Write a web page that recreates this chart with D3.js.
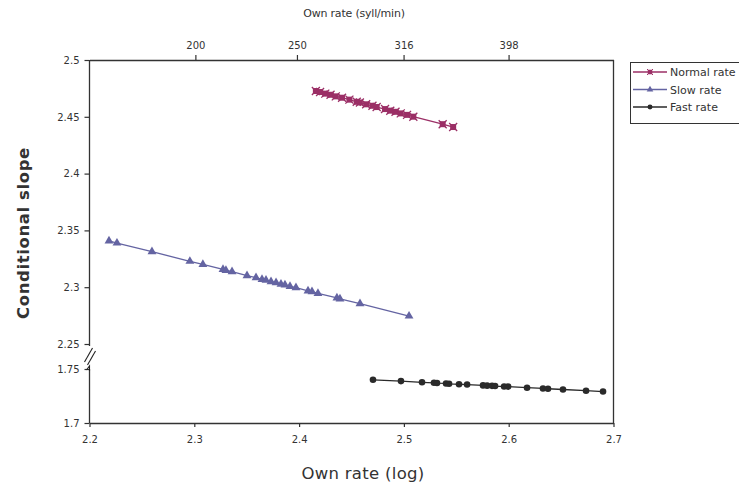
<!DOCTYPE html>
<html><head><meta charset="utf-8">
<script src="https://cdn.jsdelivr.net/npm/d3@7"></script>
<style>
body{margin:0;background:#fff;}
svg{display:block;}
text{font-family:"DejaVu Sans",Verdana,sans-serif;fill:#333;}
</style></head>
<body>
<svg id="c" width="739" height="488"></svg>
<script>
// ---- data ----
const xTicks = [2.2, 2.3, 2.4, 2.5, 2.6, 2.7];
const yTicksUpper = [2.25, 2.3, 2.35, 2.4, 2.45, 2.5];
const yTicksLower = [1.7, 1.75];
const topTickLabels = [200, 250, 316, 398];
const seriesNames = ["Normal rate", "Slow rate", "Fast rate"];

const normalX = [2.416,2.420,2.425,2.430,2.435,2.441,2.448,2.455,2.458,2.464,2.470,2.474,2.482,2.487,2.492,2.497,2.503,2.509,2.537,2.547];
const normalY = [2.4727,2.4718,2.4704,2.4694,2.4680,2.4668,2.4651,2.4632,2.4626,2.4610,2.4597,2.4586,2.4568,2.4554,2.4544,2.4530,2.4517,2.4501,2.4435,2.4410];

const slowX = [2.2186,2.2262,2.2596,2.2958,2.3082,2.3274,2.3302,2.3360,2.3503,2.3589,2.3646,2.3684,2.3732,2.3780,2.3827,2.3865,2.3913,2.3970,2.4085,2.4123,2.4180,2.4361,2.4390,2.4581,2.5049];
const slowY = [2.3407,2.3389,2.3313,2.3228,2.3201,2.3157,2.3148,2.3137,2.3102,2.3084,2.3069,2.3062,2.3049,2.3040,2.3027,2.3020,2.3007,2.2996,2.2968,2.2961,2.2946,2.2906,2.2897,2.2855,2.2746];

const fastX = [2.4705,2.4972,2.5173,2.5287,2.5316,2.5402,2.5431,2.5526,2.5603,2.5755,2.5794,2.5841,2.5870,2.5956,2.5994,2.6175,2.6327,2.6375,2.6518,2.6738,2.6900];
const fastY = [1.7400,1.7388,1.7377,1.7372,1.7370,1.7366,1.7363,1.7359,1.7356,1.7348,1.7346,1.7344,1.7342,1.7338,1.7337,1.7327,1.7320,1.7317,1.7310,1.7299,1.7291];

// ---- layout ----
const svg = d3.select("#c");
const L = 89.5, R = 613.5, T = 60, B = 423;
const x = d3.scaleLinear().domain([2.2, 2.7]).range([L, R]);
const yU = d3.scaleLinear().domain([2.25, 2.5]).range([344, T]);
const yL = d3.scaleLinear().domain([1.7, 1.75]).range([B, 369]);
const axisCol = "#333";

svg.append("line").attr("x1", R).attr("x2", R).attr("y1", T).attr("y2", B)
  .attr("stroke", axisCol).attr("stroke-width", 1.3);

const gx = svg.append("g").attr("transform", `translate(0,${B})`)
  .call(d3.axisBottom(x).tickValues(xTicks).tickSize(4).tickSizeOuter(0).tickFormat(d3.format(".1f")));
const gt = svg.append("g").attr("transform", `translate(0,${T})`)
  .call(d3.axisTop(x).tickValues(topTickLabels.map(v => Math.log10(v))).tickSize(5).tickSizeOuter(0)
    .tickFormat((d, i) => topTickLabels[i]));
const gyU = svg.append("g").attr("transform", `translate(${L},0)`)
  .call(d3.axisLeft(yU).tickValues(yTicksUpper).tickSize(5).tickSizeOuter(0).tickFormat(d => String(+d.toFixed(2))));
const gyL = svg.append("g").attr("transform", `translate(${L},0)`)
  .call(d3.axisLeft(yL).tickValues(yTicksLower).tickSize(5).tickSizeOuter(0).tickFormat(d => String(+d.toFixed(2))));

[gx, gt, gyU, gyL].forEach(g => {
  g.selectAll("path.domain").attr("stroke", axisCol).attr("stroke-width", 1.3);
  g.selectAll(".tick line").attr("stroke", axisCol).attr("stroke-width", 1.2);
  g.selectAll(".tick text").style("font-family", '"DejaVu Sans",Verdana,sans-serif')
    .style("font-size", "10px").attr("fill", "#333");
});
gx.selectAll(".tick text").attr("dy", "1.3em");
gt.selectAll(".tick text").attr("dy", "-0.3em");
gyU.selectAll(".tick text").attr("dx", "-0.2em");
gyL.selectAll(".tick text").attr("dx", "-0.2em");
gyL.select("path.domain").attr("d", `M0,${yL(1.75)}V${B}`);
gyU.select("path.domain").attr("d", `M0,${T}V346`);

// break marks
const brk = svg.append("g").attr("stroke", "#222").attr("stroke-width", 1.1).attr("fill", "none");
brk.append("line").attr("x1", L - 5).attr("y1", 362).attr("x2", L + 3).attr("y2", 348);
brk.append("line").attr("x1", L - 2).attr("y1", 365).attr("x2", L + 6).attr("y2", 351);
brk.append("path").attr("d", `M${L - 3},${yL(1.75) + 1} L${L},${yL(1.75) - 3} L${L},${yL(1.75) + 2}`);

// series
const cNormal = "#9b2f66", cSlow = "#6464a2", cFast = "#2a2a2a";
const line = d3.line();
function drawSeries(xs, ys, yScale, col, marker) {
  const pts = xs.map((v, i) => [x(v), yScale(ys[i])]);
  svg.append("path").attr("d", line(pts)).attr("fill", "none").attr("stroke", col).attr("stroke-width", 1.3);
  const g = svg.append("g");
  pts.forEach(p => marker(g, p[0], p[1], col));
}
function mSquare(g, cx, cy, col) {
  g.append("rect").attr("x", cx - 3).attr("y", cy - 3).attr("width", 6).attr("height", 6).attr("fill", col);
  g.append("path").attr("d", `M${cx-4},${cy-4}L${cx+4},${cy+4}M${cx+4},${cy-4}L${cx-4},${cy+4}`)
    .attr("stroke", col).attr("stroke-width", 1.3);
}
function mTri(g, cx, cy, col) {
  g.append("path").attr("d", d3.symbol(d3.symbolTriangle, 34)()).attr("transform", `translate(${cx},${cy})`).attr("fill", col);
}
function mCirc(g, cx, cy, col) {
  g.append("circle").attr("cx", cx).attr("cy", cy).attr("r", 3.3).attr("fill", col);
}
drawSeries(normalX, normalY, yU, cNormal, mSquare);
drawSeries(slowX, slowY, yU, cSlow, mTri);
drawSeries(fastX, fastY, yL, cFast, mCirc);

// titles
svg.append("text").attr("x", 354).attr("y", 17).attr("text-anchor", "middle")
  .style("font-size", "11px").style("letter-spacing", "-0.2px").text("Own rate (syll/min)");
svg.append("text").attr("x", 363).attr("y", 479).attr("text-anchor", "middle")
  .style("font-size", "16.5px").style("letter-spacing", "0.3px").attr("fill", "#111").text("Own rate (log)");
svg.append("text").attr("transform", "translate(29,233) rotate(-90)").attr("text-anchor", "middle")
  .style("font-size", "16.5px").style("font-weight", "bold").style("letter-spacing", "0.6px")
  .attr("fill", "#111").text("Conditional slope");

// legend
const lg = svg.append("g");
lg.append("rect").attr("x", 630.5).attr("y", 62.5).attr("width", 120).attr("height", 61)
  .attr("fill", "#fff").attr("stroke", "#333").attr("stroke-width", 1);
const legMarkers = [mSquare, mTri, mCirc];
const legCols = [cNormal, cSlow, cFast];
seriesNames.forEach((n, i) => {
  const yy = 72 + i * 17.5;
  lg.append("line").attr("x1", 633).attr("x2", 667).attr("y1", yy).attr("y2", yy)
    .attr("stroke", legCols[i]).attr("stroke-width", 1.3);
  const gm = lg.append("g").attr("transform", `translate(650,${yy}) scale(0.75) translate(-650,${-yy})`);
  legMarkers[i](gm, 650, yy, legCols[i]);
  lg.append("text").attr("x", 670).attr("y", yy + 4).style("font-size", "11px").attr("fill", "#111").text(n);
});
</script>
</body></html>
